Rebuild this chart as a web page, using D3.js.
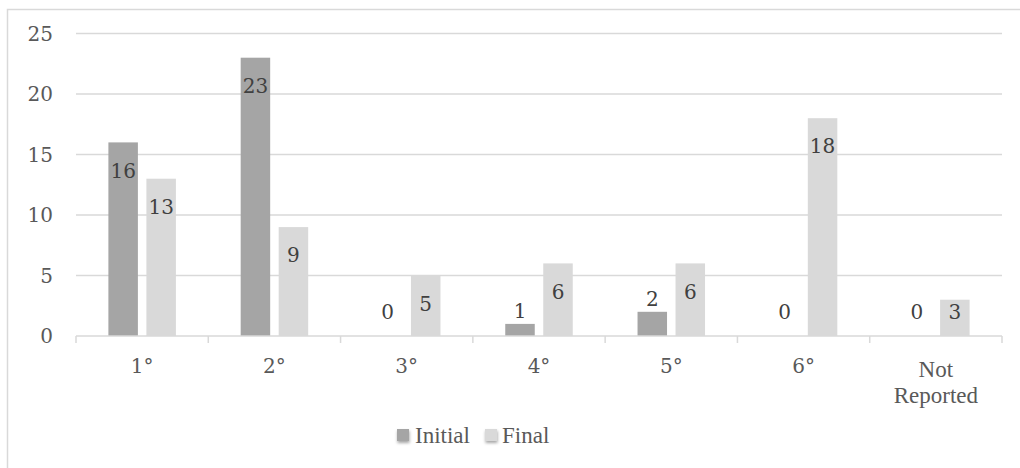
<!DOCTYPE html>
<html><head><meta charset="utf-8">
<script src="https://cdn.jsdelivr.net/npm/d3@7"></script>
<style>html,body{margin:0;padding:0;background:#fff;}svg{display:block;}</style>
</head><body>
<svg id="c" width="1020" height="468"></svg>
<script>
const categories = ["1°","2°","3°","4°","5°","6°","Not Reported"];
const initialValues = [16,23,0,1,2,0,0];
const finalValues = [13,9,5,6,6,18,3];
const yTicks = [0,5,10,15,20,25];
const seriesNames = ["Initial","Final"];

const colors = {Initial:"#a5a5a5", Final:"#d9d9d9"};
const svg = d3.select("#c");
const numFont = "'DejaVu Serif', serif";
const txtFont = "'Liberation Serif', 'Times New Roman', serif";

// outer frame
svg.append("rect").attr("x",7.5).attr("y",9.5).attr("width",1030).attr("height",470)
  .attr("fill","none").attr("stroke","#d9d9d9").attr("stroke-width",1.5);

const pLeft = 76, pRight = 1002, pTop = 33.5, pBottom = 336;
const x = d3.scaleBand().domain(categories).range([pLeft,pRight]);
const y = d3.scaleLinear().domain([0,25]).range([pBottom,pTop]);

// gridlines
svg.append("g").selectAll("line").data(yTicks.filter(d=>d>0)).join("line")
  .attr("x1",pLeft).attr("x2",pRight).attr("y1",d=>y(d)).attr("y2",d=>y(d))
  .attr("stroke","#d9d9d9").attr("stroke-width",1.5);

// y labels
svg.append("g").selectAll("text").data(yTicks).join("text")
  .attr("x",53).attr("y",d=>y(d)).attr("dy","0.36em").attr("text-anchor","end")
  .attr("font-family",numFont).attr("font-size",20).attr("fill","#595959").text(d=>d);

// bars
const offs = {Initial:-19, Final:19};
const barW = 29.5;
const data = [];
categories.forEach((c,i)=>{
  data.push({cat:c, s:"Initial", v:initialValues[i]});
  data.push({cat:c, s:"Final", v:finalValues[i]});
});
const cx = d => x(d.cat) + x.bandwidth()/2 + offs[d.s];
svg.append("g").selectAll("rect").data(data.filter(d=>d.v>0)).join("rect")
  .attr("x",d=>cx(d)-barW/2).attr("width",barW)
  .attr("y",d=>y(d.v)).attr("height",d=>y(0)-y(d.v))
  .attr("fill",d=>colors[d.s]);

// x axis line and ticks
const ax = svg.append("g").attr("transform",`translate(0,${pBottom})`);
ax.append("line").attr("x1",pLeft).attr("x2",pRight).attr("y1",0).attr("y2",0)
  .attr("stroke","#d9d9d9").attr("stroke-width",1.5);
const bounds = categories.map(c=>x(c)).concat([pRight]);
ax.selectAll("line.t").data(bounds).join("line").attr("class","t")
  .attr("x1",d=>d).attr("x2",d=>d).attr("y1",0).attr("y2",7)
  .attr("stroke","#d9d9d9").attr("stroke-width",1.5);

// category labels
categories.forEach(c=>{
  const g = svg.append("text").attr("text-anchor","middle").attr("fill","#595959");
  const xc = x(c)+x.bandwidth()/2;
  if(c==="Not Reported"){
    g.attr("font-family",txtFont).attr("font-size",23);
    g.append("tspan").attr("x",xc).attr("y",369).attr("dy","0.35em").text("Not");
    g.append("tspan").attr("x",xc).attr("y",395).attr("dy","0.35em").text("Reported");
  } else {
    g.attr("font-family",numFont).attr("font-size",20).attr("x",xc).attr("y",366).attr("dy","0.36em").text(c);
  }
});

// value labels
function labelY(v){
  const t = y(v), h = y(0)-y(v);
  if(h >= 30) return Math.min(t+28, pBottom-24);
  if(v===0) return pBottom-24;
  return t-13;
}
svg.append("g").selectAll("text").data(data).join("text")
  .attr("x",cx).attr("y",d=>labelY(d.v)).attr("dy","0.36em").attr("text-anchor","middle")
  .attr("font-family",numFont).attr("font-size",20).attr("fill","#404040").text(d=>d.v);

// legend
const defs = svg.append("defs");
const f = defs.append("filter").attr("id","sh").attr("x","-50%").attr("y","-50%").attr("width","200%").attr("height","200%");
f.append("feDropShadow").attr("dx",0.5).attr("dy",2).attr("stdDeviation",1.5).attr("flood-color","#000").attr("flood-opacity",0.35);
const leg = [{n:"Initial",x:397,tx:415},{n:"Final",x:485,tx:502}];
leg.forEach(l=>{
  svg.append("rect").attr("x",l.x).attr("y",429).attr("width",12).attr("height",12)
    .attr("fill",colors[l.n]).attr("filter","url(#sh)");
  svg.append("text").attr("x",l.tx).attr("y",435).attr("dy","0.35em")
    .attr("font-family",txtFont).attr("font-size",23).attr("fill","#595959").text(l.n);
});
</script>
</body></html>
